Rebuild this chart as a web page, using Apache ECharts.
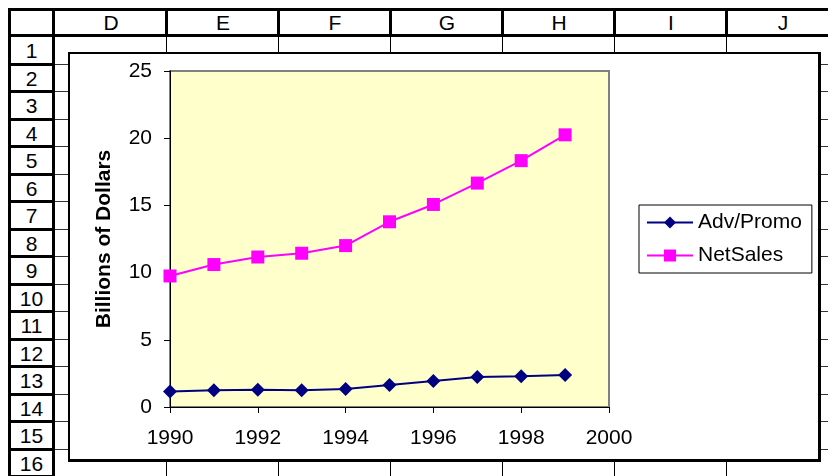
<!DOCTYPE html>
<html>
<head>
<meta charset="utf-8">
<script src="https://cdn.jsdelivr.net/npm/echarts@6/dist/echarts.min.js"></script>
<style>
  body { margin: 0; width: 828px; height: 476px; overflow: hidden; background: #fff;
         font-family: "Liberation Sans", Arial, sans-serif; }
  #sheet { position: absolute; left: 0; top: 0; width: 828px; height: 476px; }
  .ln { position: absolute; background: #000; }
  .gl { position: absolute; background: #333; }
  .hd { position: absolute; font-size: 21px; color: #000; text-align: center; }
  #box { position: absolute; left: 68px; top: 52px; width: 753px; height: 410px;
         box-sizing: border-box; border: 2px solid #000; border-right-width: 3px; border-bottom-width: 3px; background: #fff; }
  #main { position: absolute; left: 0; top: 0; width: 828px; height: 476px; }
</style>
</head>
<body>
<div id="sheet"></div>
<div id="box"></div>
<div id="main"></div>
<script type="text/javascript">
// spreadsheet labels
var colLabels = ['D', 'E', 'F', 'G', 'H', 'I', 'J'];
var rowLabels = [1, 2, 3, 4, 5, 6, 7, 8, 9, 10, 11, 12, 13, 14, 15, 16];

// chart data
var years = [1990, 1991, 1992, 1993, 1994, 1995, 1996, 1997, 1998, 1999];
var advPromo = [1.16, 1.24, 1.29, 1.24, 1.34, 1.64, 1.94, 2.24, 2.28, 2.39];
var netSales = [9.75, 10.6, 11.16, 11.44, 12.01, 13.78, 15.07, 16.66, 18.33, 20.25];
var xTicks = { min: 1990, max: 2000, step: 2 };
var yTicks = { min: 0, max: 25, step: 5 };

// draw the sheet grid behind the chart
var sheet = document.getElementById('sheet');
function add(cls, l, t, w, h, txt) {
    var d = document.createElement('div');
    d.className = cls;
    d.style.left = l + 'px'; d.style.top = t + 'px';
    d.style.width = w + 'px'; d.style.height = h + 'px';
    if (txt !== undefined) { d.textContent = txt; d.style.lineHeight = h + 'px'; }
    sheet.appendChild(d);
}
var colX0 = 55, colW = 112, rowY0 = 37, rowH = 27.5;
// body gridlines
for (var i = 0; i <= colLabels.length; i++) {
    add('ln', colX0 + (i + 1) * colW - 1, rowY0, 1, 476 - rowY0);
}
for (var r = 1; r <= rowLabels.length; r++) {
    add('gl', colX0, Math.round(rowY0 + r * rowH) - 1, 828 - colX0, 1);
}
// header row
add('ln', 8, 8, 820, 3);
add('ln', 8, 34, 820, 3);
add('ln', 8, 8, 3, 468);
add('ln', 52, 8, 3, 468);
for (var i = 0; i < colLabels.length; i++) {
    add('ln', colX0 + (i + 1) * colW - 2, 8, 3, 29);
    add('hd', colX0 + i * colW, 10, colW, 25, colLabels[i]);
}
for (var r = 0; r < rowLabels.length; r++) {
    var y = Math.round(rowY0 + (r + 1) * rowH);
    add('ln', 8, y - 2, 47, 3);
    add('hd', 11, Math.round(rowY0 + r * rowH), 41, 27, rowLabels[r]);
}

var myChart = echarts.init(document.getElementById('main'));
var font = { fontFamily: 'Liberation Sans', fontSize: 21, color: '#000' };
var option = {
    backgroundColor: 'transparent',
    animation: false,
    grid: {
        left: 170, top: 71, right: 219, bottom: 69,
        show: true, backgroundColor: '#FFFFCC', borderColor: '#808080', borderWidth: 2
    },
    legend: {
        orient: 'vertical', left: 639, top: 205,
        padding: [7, 10, 7, 7], itemGap: 12, itemWidth: 46, itemHeight: 15,
        borderColor: '#000', borderWidth: 1, backgroundColor: '#fff',
        textStyle: font,
        data: ['Adv/Promo', 'NetSales']
    },
    xAxis: {
        type: 'value', min: xTicks.min, max: xTicks.max, interval: xTicks.step,
        axisLine: { lineStyle: { color: '#000', width: 1 } },
        axisTick: { length: 6, lineStyle: { color: '#000' } },
        axisLabel: Object.assign({ margin: 21, formatter: function (v) { return String(v); } }, font),
        splitLine: { show: false }
    },
    yAxis: {
        type: 'value', min: yTicks.min, max: yTicks.max, interval: yTicks.step,
        name: 'Billions of Dollars', nameLocation: 'middle', nameGap: 55,
        nameTextStyle: { fontFamily: 'Liberation Sans', fontSize: 21, fontWeight: 'bold', color: '#000' },
        axisLine: { show: true, lineStyle: { color: '#000', width: 1 } },
        axisTick: { show: true, length: 6, lineStyle: { color: '#000' } },
        axisLabel: Object.assign({ margin: 18 }, font),
        splitLine: { show: false }
    },
    series: [
        {
            name: 'Adv/Promo', type: 'line', symbol: 'diamond', symbolSize: 14,
            itemStyle: { color: '#000080' }, lineStyle: { color: '#000080', width: 2 },
            data: years.map(function (y, i) { return [y, advPromo[i]]; })
        },
        {
            name: 'NetSales', type: 'line', symbol: 'rect', symbolSize: 13,
            itemStyle: { color: '#FF00FF' }, lineStyle: { color: '#FF00FF', width: 2 },
            data: years.map(function (y, i) { return [y, netSales[i]]; })
        }
    ]
};
myChart.setOption(option);
</script>
</body>
</html>
